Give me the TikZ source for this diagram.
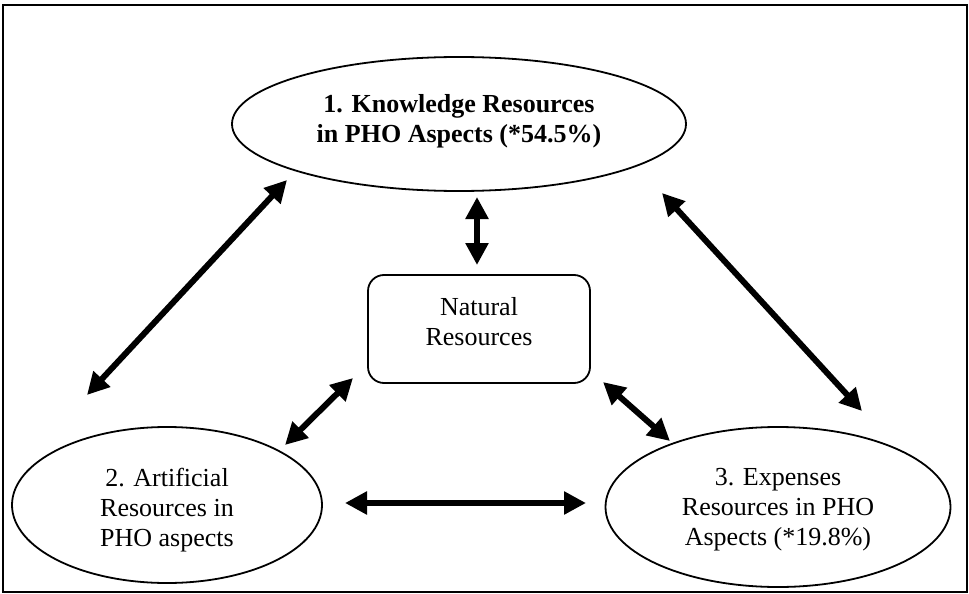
\documentclass[tikz,border=0pt]{standalone}
\usepackage{fontspec}
\setmainfont{Liberation Serif}
\usetikzlibrary{shapes.geometric,arrows.meta}
\tikzset{
  oval/.style={draw, ellipse, line width=1.8pt, inner sep=0pt},
  lbl/.style={align=center, inner sep=0pt, font=\fontsize{26}{30}\selectfont},
  link/.style={line width=6pt, {Triangle[length=22pt,width=22pt]}-{Triangle[length=22pt,width=22pt]}}
}
\begin{document}
\begin{tikzpicture}[x=1pt,y=-1pt]
\useasboundingbox (0,0) rectangle (969,594);
\draw[line width=1.5pt] (3,5) rectangle (967,592);
\node[oval, minimum width=454pt, minimum height=134pt] (k) at (459,124) {};
\node[lbl] (kt) at (459,121) {\textbf{1. Knowledge Resources}\\\textbf{in PHO Aspects (*54.5\%)}};
\node[oval, minimum width=310pt, minimum height=156pt] (a) at (167,505) {};
\node[lbl] (at) at (167,510) {2. Artificial\\Resources in\\PHO aspects};
\node[oval, minimum width=345pt, minimum height=160pt] (e) at (778,507) {};
\node[lbl] (et) at (778,510) {3. Expenses\\Resources in PHO\\Aspects (*19.8\%)};
\node[draw, rounded corners=16pt, line width=1.8pt, minimum width=222pt, minimum height=108pt] (n) at (479,329) {};
\node[lbl] (nt) at (479,322) {Natural\\Resources};
\coordinate (p1) at (287,180);
\coordinate (p2) at (87,395);
\coordinate (p3) at (477,197);
\coordinate (p4) at (477,265);
\coordinate (p5) at (662,193);
\coordinate (p6) at (862,411);
\coordinate (p7) at (353,378);
\coordinate (p8) at (285,445);
\coordinate (p9) at (603,382);
\coordinate (p10) at (670,441);
\coordinate (p11) at (345,503);
\coordinate (p12) at (586,503);
\draw[link] (p1) -- (p2);
\draw[link] (p3) -- (p4);
\draw[link] (p5) -- (p6);
\draw[link] (p7) -- (p8);
\draw[link] (p9) -- (p10);
\draw[link] (p11) -- (p12);
\end{tikzpicture}
\end{document}
